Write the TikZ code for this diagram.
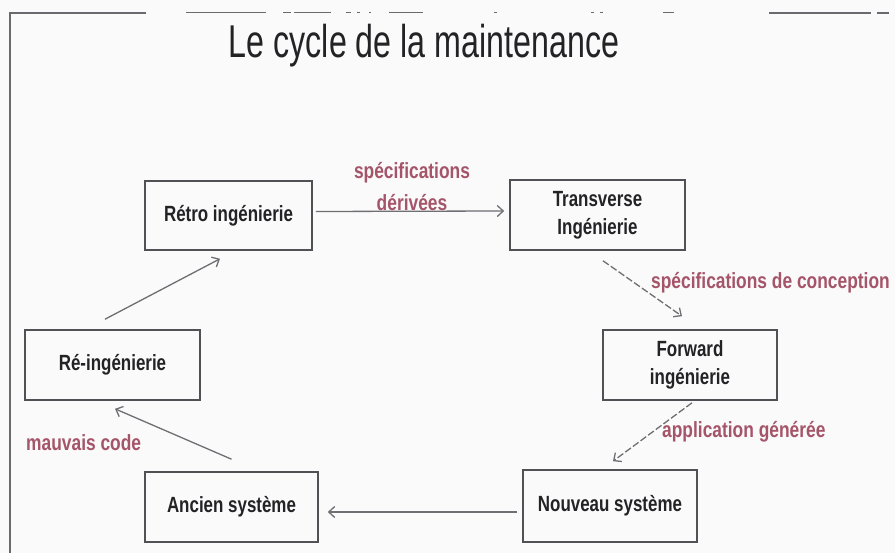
\documentclass[tikz,border=0pt]{standalone}
\usepackage{fontspec}
\setmainfont{Liberation Sans}
\usetikzlibrary{arrows.meta}
\definecolor{bgcol}{RGB}{250,250,250}
\definecolor{framecol}{RGB}{105,105,110}
\definecolor{boxcol}{RGB}{80,80,85}
\definecolor{txtcol}{RGB}{35,35,38}
\definecolor{labcol}{RGB}{165,85,105}
\definecolor{arrcol}{RGB}{110,110,115}
\newcommand{\sqz}[1]{\scalebox{0.77}[1]{#1}}
\newcommand{\lsqz}[1]{\scalebox{0.79}[1]{#1}}
\tikzset{
  boxnode/.style={draw=boxcol, line width=1.6pt, fill=bgcol, inner sep=0pt,
    font=\bfseries\fontsize{22}{28}\selectfont, text=txtcol, align=center},
  lab/.style={font=\bfseries\fontsize{22}{32}\selectfont, text=labcol, inner sep=0pt, align=center},
  conn/.style={draw=arrcol, line width=1.3pt, -{Straight Barb[length=6pt,width=11pt]}},
  dconn/.style={conn, dash pattern=on 7pt off 2.5pt},
  frameline/.style={draw=framecol, line width=1.6pt},
  tick/.style={draw=framecol, line width=1pt}
}
\begin{document}
\begin{tikzpicture}[x=1pt,y=-1pt]
\fill[bgcol] (0,0) rectangle (895,553);
\useasboundingbox (0,0) rectangle (895,553);
% frame
\coordinate (ftl) at (10,13);
\coordinate (fbl) at (10,553);
\coordinate (fa) at (146,13);
\draw[frameline] (fbl) -- (ftl) -- (fa);
\draw[tick] (186,13) -- (266,13) (283,13) -- (291,13) (294,13) -- (331,13)
  (346,13) -- (351,13) (357,13) -- (360,13) (369,13) -- (371,13) (389,13) -- (423,13)
  (494,13) -- (497,13) (591,13) -- (594,13) (600,13) -- (603,13) (663,13) -- (674,13);
\draw[frameline] (769,13) -- (871,13) (877,13) -- (889,13);
% title
\node[text=txtcol, font=\fontsize{46}{50}\selectfont, inner sep=0pt] (title) at (424,46)
  {\scalebox{0.7}[1]{Le cycle de la maintenance}};
% boxes
\node[boxnode, minimum width=167pt, minimum height=69pt] (retro) at (228.5,215.5) {\sqz{Rétro ingénierie}};
\node[boxnode, minimum width=175pt, minimum height=70pt] (trans) at (597.5,215) {\sqz{Transverse}\\\sqz{Ingénierie}};
\node[boxnode, minimum width=174pt, minimum height=70pt] (fwd) at (690,365) {\sqz{Forward}\\\sqz{ingénierie}};
\node[boxnode, minimum width=174pt, minimum height=72pt] (nouv) at (610,506) {\sqz{Nouveau système}};
\node[boxnode, minimum width=173pt, minimum height=70pt] (ancien) at (231.5,507) {\sqz{Ancien système}};
\node[boxnode, minimum width=175pt, minimum height=70pt] (re) at (112.5,365) {\sqz{Ré-ingénierie}};
% connectors
\draw[conn] ([xshift=3pt,yshift=4pt]retro.east) -- ([xshift=-5pt,yshift=4pt]trans.west);
\draw[dconn] ([xshift=5.5pt,yshift=-10pt]trans.south) -- ([xshift=-8pt,yshift=13pt]fwd.north);
\draw[dconn] ([xshift=2pt,yshift=-2pt]fwd.south) -- ([xshift=3pt,yshift=8pt]nouv.north);
\draw[conn] ([xshift=-5pt,yshift=-6pt]nouv.west) -- ([xshift=9pt,yshift=-5pt]ancien.east);
\draw[conn] ([yshift=12pt]ancien.north) -- ([xshift=2.5pt,yshift=-8pt]re.south);
\draw[conn] ([xshift=-7.5pt,yshift=10pt]re.north) -- ([xshift=-8.5pt,yshift=-8pt]retro.south);
% labels
\node[lab] (l1) at (412,187) {\lsqz{spécifications}\\\lsqz{dérivées}};
\node[lab, anchor=west] (l2) at (651,283) {\lsqz{spécifications de conception}};
\node[lab, anchor=west] (l3) at (662,432) {\lsqz{application générée}};
\node[lab, anchor=west] (l4) at (26,443) {\lsqz{mauvais code}};
\end{tikzpicture}
\end{document}
